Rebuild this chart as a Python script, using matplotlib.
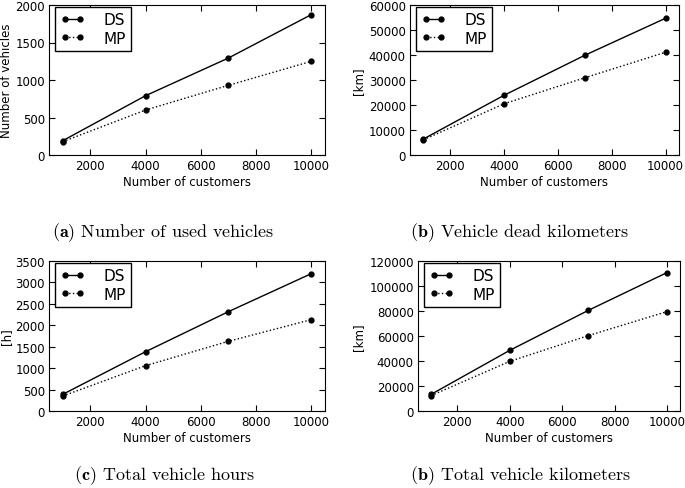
import matplotlib
matplotlib.use('Agg')
import matplotlib.pyplot as plt
import numpy as np

# Data
customers = [1000, 4000, 7000, 10000]

vehicles_ds = [191, 791, 1293, 1871]
vehicles_mp = [178, 600, 929, 1249]

dead_km_ds = [6400, 23900, 39900, 54700]
dead_km_mp = [6100, 20500, 30900, 41100]

hours_ds = [389, 1384, 2318, 3204]
hours_mp = [350, 1058, 1626, 2131]

total_km_ds = [13300, 48500, 80500, 110700]
total_km_mp = [12300, 39700, 60300, 79500]

ylabels = ['Number of vehicles', '[km]', '[h]', '[km]']
ylims = [(0, 2000), (0, 60000), (0, 3500), (0, 120000)]
ysteps = [500, 10000, 500, 20000]
captions = [r'$\mathbf{(a)}$ Number of used vehicles',
            r'$\mathbf{(b)}$ Vehicle dead kilometers',
            r'$\mathbf{(c)}$ Total vehicle hours',
            r'$\mathbf{(b)}$ Total vehicle kilometers']
series = [(vehicles_ds, vehicles_mp), (dead_km_ds, dead_km_mp),
          (hours_ds, hours_mp), (total_km_ds, total_km_mp)]

plt.rcParams['mathtext.fontset'] = 'cm'
plt.rcParams['font.family'] = 'DejaVu Sans'

W, H = 685, 489
fig = plt.figure(figsize=(W / 100, H / 100), dpi=100)

# axes boxes in pixels: left, top, right, bottom
boxes = [(49, 6, 325, 156), (410, 6, 679, 156),
         (49, 262, 325, 412), (418, 262, 680, 412)]
caption_pos = [(163, 233), (519, 233), (165, 476), (520, 476)]
ylabel_x = [13, 365, 13, 365]

for i, (l, t, r, b) in enumerate(boxes):
    ax = fig.add_axes([l / W, (H - b) / H, (r - l) / W, (b - t) / H])
    ds, mp = series[i]
    ax.plot(customers, ds, '-', color='black', marker='o', markersize=3.5,
            linewidth=1, label='DS')
    ax.plot(customers, mp, ':', color='black', marker='o', markersize=3.5,
            linewidth=1, label='MP')
    ax.set_xlim(500, 10500)
    ax.set_ylim(*ylims[i])
    ax.set_xticks([2000, 4000, 6000, 8000, 10000])
    ax.set_yticks(np.arange(0, ylims[i][1] + 1, ysteps[i]))
    ax.tick_params(direction='in', top=True, right=True, length=4,
                   labelsize=8.5, pad=3)
    ax.set_xlabel('Number of customers', fontsize=8.5, labelpad=2)
    ax.set_ylabel(ylabels[i], fontsize=8.5)
    ax.yaxis.set_label_coords((ylabel_x[i] - l) / (r - l), 0.5)
    leg = ax.legend(loc='upper left', numpoints=2, fancybox=False,
                    edgecolor='black', framealpha=1, fontsize=11,
                    handlelength=1.6, handletextpad=1.2, borderpad=0.35,
                    labelspacing=0.25, borderaxespad=0,
                    bbox_to_anchor=(6 / (r - l), 1 - 1.5 / (b - t)))
    leg.get_frame().set_linewidth(1)
    cx, cy = caption_pos[i]
    fig.text(cx / W, 1 - cy / H, captions[i], ha='center', va='center',
             fontsize=13, family='cmr10')

fig.savefig('out.png', dpi=100)
